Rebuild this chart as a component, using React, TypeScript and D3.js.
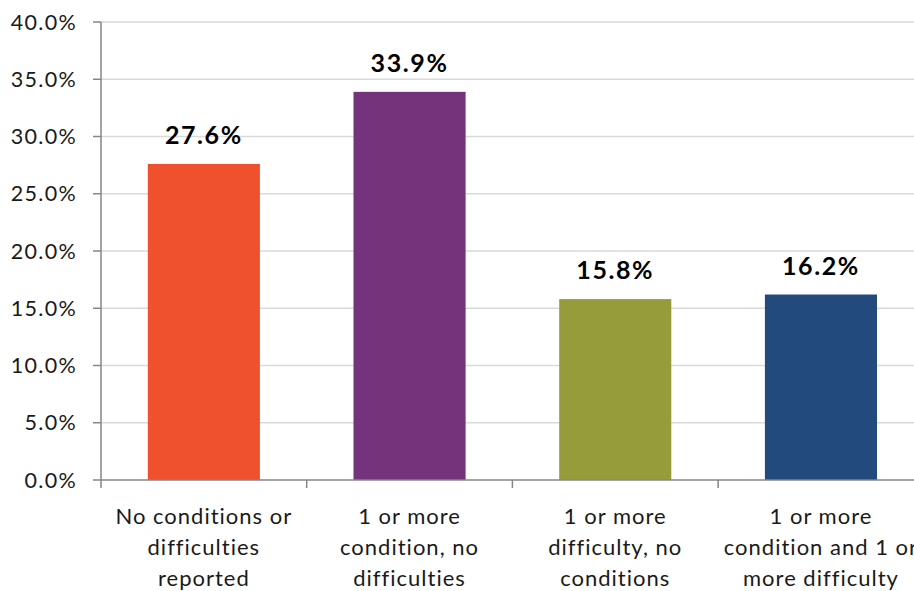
import { useEffect, useRef } from 'react'
import * as d3 from 'd3'

const categories = [
  ['No conditions or', 'difficulties', 'reported'],
  ['1 or more', 'condition, no', 'difficulties'],
  ['1 or more', 'difficulty, no', 'conditions'],
  ['1 or more', 'condition and 1 or', 'more difficulty'],
]
const values = [27.6, 33.9, 15.8, 16.2]
const barColors = ['#EF512F', '#74337A', '#969C3A', '#224A7C']
const yTicks = [0, 5, 10, 15, 20, 25, 30, 35, 40]

const W = 914
const H = 591
const FONT = 'Lato, "Open Sans", sans-serif'

export default function App() {
  const svgRef = useRef<SVGSVGElement>(null)

  useEffect(() => {
    if (!svgRef.current) return
    const svg = d3.select(svgRef.current)
    svg.selectAll('*').remove()

    const left = 101
    const top = 22
    const bottom = 480
    const band = 205.7

    const x = d3.scaleBand<number>()
      .domain(d3.range(values.length))
      .range([left, left + band * values.length])
      .paddingInner(0.455)
      .paddingOuter(0.2275)

    const y = d3.scaleLinear().domain([0, 40]).range([bottom, top])

    // gridlines
    svg.append('g')
      .selectAll('line')
      .data(yTicks.filter(t => t > 0))
      .enter()
      .append('line')
      .attr('x1', left)
      .attr('x2', W)
      .attr('y1', d => y(d))
      .attr('y2', d => y(d))
      .attr('stroke', '#d9d9d9')
      .attr('stroke-width', 1.3)

    // bars
    svg.append('g')
      .selectAll('rect')
      .data(values)
      .enter()
      .append('rect')
      .attr('x', (_, i) => x(i)!)
      .attr('width', x.bandwidth())
      .attr('y', d => y(d))
      .attr('height', d => bottom - y(d))
      .attr('fill', (_, i) => barColors[i])

    // y axis
    const yAxis = svg.append('g')
    yAxis.append('line')
      .attr('x1', left).attr('x2', left)
      .attr('y1', top).attr('y2', bottom)
      .attr('stroke', '#868686').attr('stroke-width', 1.5)
    yAxis.selectAll('.tick')
      .data(yTicks)
      .enter()
      .append('line')
      .attr('x1', left - 8).attr('x2', left)
      .attr('y1', d => y(d)).attr('y2', d => y(d))
      .attr('stroke', '#868686').attr('stroke-width', 1.5)
    yAxis.selectAll('text')
      .data(yTicks)
      .enter()
      .append('text')
      .attr('x', 77)
      .attr('y', d => y(d))
      .attr('dy', '0.35em')
      .attr('text-anchor', 'end')
      .attr('font-family', FONT)
      .attr('font-size', 21.5)
      .attr('letter-spacing', 1.3)
      .attr('fill', '#1a1a1a')
      .text(d => `${d.toFixed(1)}%`)

    // x axis
    const xAxis = svg.append('g')
    xAxis.append('line')
      .attr('x1', left).attr('x2', W)
      .attr('y1', bottom).attr('y2', bottom)
      .attr('stroke', '#868686').attr('stroke-width', 1.5)
    xAxis.selectAll('.tick')
      .data(d3.range(values.length + 1))
      .enter()
      .append('line')
      .attr('x1', i => left + band * i).attr('x2', i => left + band * i)
      .attr('y1', bottom).attr('y2', bottom + 8)
      .attr('stroke', '#868686').attr('stroke-width', 1.5)

    const labels = xAxis.selectAll('.cat')
      .data(categories)
      .enter()
      .append('text')
      .attr('text-anchor', 'middle')
      .attr('font-family', FONT)
      .attr('font-size', 22)
      .attr('letter-spacing', 1)
      .attr('fill', '#1a1a1a')
    labels.each(function (lines, i) {
      const cx = x(i)! + x.bandwidth() / 2
      d3.select(this)
        .selectAll('tspan')
        .data(lines)
        .enter()
        .append('tspan')
        .attr('x', cx)
        .attr('y', (_, j) => 524 + j * 31)
        .text(d => d)
    })

    // value labels
    svg.append('g')
      .selectAll('text')
      .data(values)
      .enter()
      .append('text')
      .attr('x', (_, i) => x(i)! + x.bandwidth() / 2)
      .attr('y', d => y(d) - 20)
      .attr('text-anchor', 'middle')
      .attr('font-family', FONT)
      .attr('font-weight', 'bold')
      .attr('font-size', 25)
      .attr('letter-spacing', 1.6)
      .attr('fill', '#000')
      .text(d => `${d.toFixed(1)}%`)
  }, [])

  return (
    <svg
      ref={svgRef}
      width={W}
      height={H}
      style={{ position: 'absolute', left: 0, top: 0, background: '#fff' }}
    />
  )
}
